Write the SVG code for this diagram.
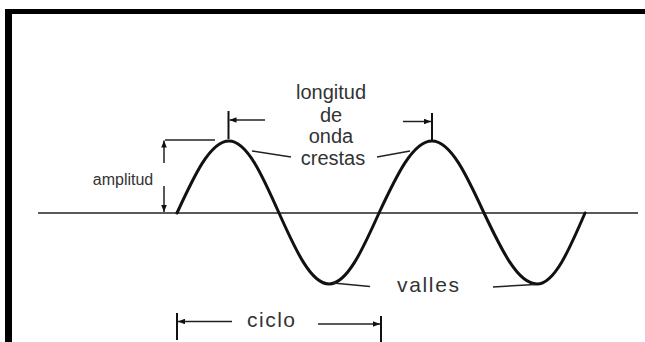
<svg xmlns="http://www.w3.org/2000/svg" width="645" height="342" viewBox="0 0 645 342">
<defs>
<style>
.lbl{font-family:"Liberation Sans",Arial,sans-serif;fill:#333;text-anchor:middle}
.ln{stroke:#222;fill:none;stroke-width:1.5}
.tick{stroke:#111;fill:none;stroke-width:2}
.wave{stroke:#111;fill:none;stroke-width:3;stroke-linecap:round}
</style>
<marker id="ah" viewBox="0 0 10 8" refX="10" refY="4" markerWidth="7" markerHeight="5.6" markerUnits="userSpaceOnUse" orient="auto">
<path d="M0,0 L10,4 L0,8 Z" fill="#111"/>
</marker>
</defs>
<rect width="645" height="342" fill="#fff"/>
<g id="frame">
<rect x="5" y="9" width="640" height="5" fill="#000"/>
<rect x="5" y="9" width="7" height="333" fill="#000"/>
</g>
<g id="baseline">
<line class="ln" x1="38" y1="213" x2="638" y2="213"/>
</g>
<g id="wave">
<path class="wave" d="M177,213 C194,176.1 210.2,141 229,141 C247.1,141 262.7,176.1 279,213 C295.3,249.4 310.9,284 329,284 C347.1,284 362.7,249.4 379,213 C396.3,176.1 412.8,141 432,141 C450.8,141 467,176.1 484,213 C501.3,249.4 517.8,284 537,284 C554.4,284 569.4,249.4 585,213"/>
</g>
<g id="connectors">
<line class="ln" x1="165" y1="140" x2="215" y2="140"/>
<line class="ln" x1="164" y1="163" x2="164" y2="140.5" marker-end="url(#ah)"/>
<line class="ln" x1="164" y1="186" x2="164" y2="212" marker-end="url(#ah)"/>
<line class="tick" x1="228.5" y1="111" x2="228.5" y2="139"/>
<line class="ln" x1="265" y1="120" x2="229.5" y2="120" marker-end="url(#ah)"/>
<line class="tick" x1="432" y1="113" x2="432" y2="140"/>
<line class="ln" x1="403" y1="121.5" x2="431" y2="121.5" marker-end="url(#ah)"/>
<line class="ln" x1="252" y1="151" x2="291" y2="157"/>
<line class="ln" x1="377" y1="157" x2="410" y2="151"/>
<line class="ln" x1="333" y1="283" x2="370" y2="286.5"/>
<line class="ln" x1="493" y1="287" x2="535" y2="284.5"/>
<line class="tick" x1="177" y1="313" x2="177" y2="340"/>
<line class="ln" x1="232" y1="321.5" x2="178" y2="321.5" marker-end="url(#ah)"/>
<line class="tick" x1="381" y1="316" x2="381" y2="342"/>
<line class="ln" x1="318" y1="324" x2="380" y2="324" marker-end="url(#ah)"/>
</g>
<g id="label-amplitud"><text class="lbl" x="123" y="185" font-size="16">amplitud</text></g>
<g id="label-longitud">
<text class="lbl" x="331" y="99" font-size="20">longitud</text>
<text class="lbl" x="331" y="122" font-size="20">de</text>
<text class="lbl" x="331" y="143" font-size="20">onda</text>
</g>
<g id="label-crestas"><text class="lbl" x="333" y="165" font-size="20">crestas</text></g>
<g id="label-valles"><text class="lbl" x="428" y="292" font-size="21" textLength="62">valles</text></g>
<g id="label-ciclo"><text class="lbl" x="271" y="327" font-size="21" textLength="48">ciclo</text></g>
</svg>
